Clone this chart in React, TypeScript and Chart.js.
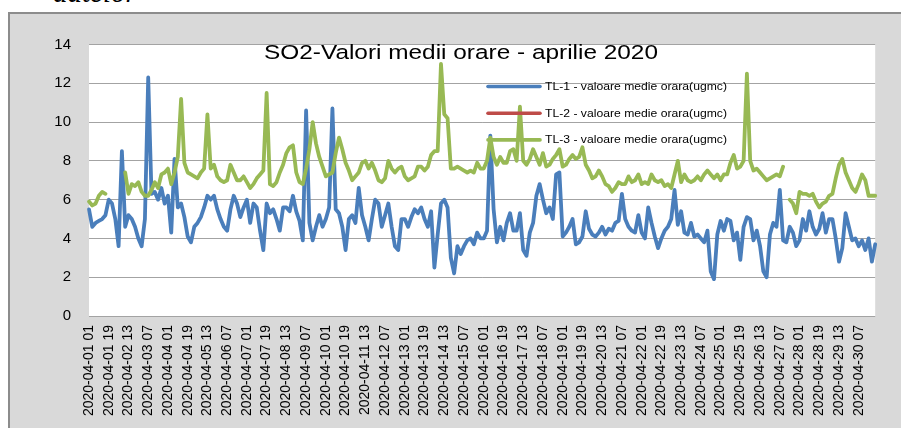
import React, { useEffect, useRef } from 'react';
import { Chart, registerables } from 'chart.js';

Chart.register(...registerables);

const TITLE = 'SO2-Valori medii orare - aprilie 2020';
const HEADER_TEXT = 'datelor';

const SERIES_NAMES = [
  'TL-1 - valoare medie orara(ugmc)',
  'TL-2 - valoare medie orara(ugmc)',
  'TL-3 - valoare medie orara(ugmc)',
];
const SERIES_COLORS = ['#4a7ebb', '#be4b48', '#98b954'];

const TICK_LABELS = [
  '2020-04-01 01', '2020-04-01 19', '2020-04-02 13', '2020-04-03 07', '2020-04-04 01',
  '2020-04-04 19', '2020-04-05 13', '2020-04-06 07', '2020-04-07 01', '2020-04-07 19',
  '2020-04-08 13', '2020-04-09 07', '2020-04-10 01', '2020-04-10 19', '2020-04-11 13',
  '2020-04-12 07', '2020-04-13 01', '2020-04-13 19', '2020-04-14 13', '2020-04-15 07',
  '2020-04-16 01', '2020-04-16 19', '2020-04-17 13', '2020-04-18 07', '2020-04-19 01',
  '2020-04-19 19', '2020-04-20 13', '2020-04-21 07', '2020-04-22 01', '2020-04-22 19',
  '2020-04-23 13', '2020-04-24 07', '2020-04-25 01', '2020-04-25 19', '2020-04-26 13',
  '2020-04-27 07', '2020-04-28 01', '2020-04-28 19', '2020-04-29 13', '2020-04-30 07',
];

// 3-hourly readings, starting 2020-04-01 01
const TL1: (number | null)[] = [
  5.5, 4.6, 4.8, 4.9, 5.0, 5.2, 6.0, 5.8, 5.0, 3.6, 8.5, 4.6, 5.2, 5.0, 4.6, 4.0, 3.6, 5.0, 12.3, 6.3, 6.4, 6.0, 6.6, 5.8,
  6.2, 4.3, 8.1, 5.6, 5.8, 5.1, 4.1, 3.8, 4.6, 4.8, 5.1, 5.6, 6.2, 6.0, 6.2, 5.5, 5.0, 4.6, 4.4, 5.5, 6.2, 5.8, 5.1, 5.6,
  6.0, 4.8, 5.8, 5.6, 4.4, 3.4, 5.8, 5.3, 5.5, 5.0, 4.4, 5.6, 5.6, 5.4, 6.2, 5.4, 4.9, 3.9, 10.6, 4.8, 3.9, 4.6, 5.2, 4.6,
  5.0, 5.6, 10.7, 5.5, 5.3, 4.6, 3.4, 5.0, 5.2, 4.8, 6.6, 5.2, 4.6, 3.9, 5.0, 6.0, 5.8, 4.6, 5.2, 5.8, 4.6, 3.6, 3.4, 5.0,
  5.0, 4.6, 5.1, 5.5, 5.3, 5.6, 5.0, 4.6, 5.4, 2.5, 4.2, 5.8, 6.0, 5.6, 3.0, 2.2, 3.6, 3.2, 3.6, 3.9, 4.0, 3.7, 4.3, 4.0,
  4.0, 4.4, 9.3, 5.5, 3.8, 4.6, 3.9, 4.8, 5.3, 4.4, 4.4, 5.3, 3.4, 3.1, 4.3, 4.8, 6.2, 6.8, 6.0, 5.3, 5.6, 5.0, 7.3, 7.4,
  4.1, 4.3, 4.6, 5.0, 3.7, 3.8, 4.1, 5.4, 4.5, 4.2, 4.1, 4.3, 4.6, 4.2, 4.5, 4.4, 4.8, 4.9, 6.3, 5.0, 4.6, 4.4, 4.3, 5.2,
  4.3, 4.0, 5.6, 4.8, 4.1, 3.5, 4.0, 4.4, 4.6, 5.0, 6.5, 4.7, 5.4, 4.3, 4.2, 4.8, 4.1, 4.2, 4.0, 3.8, 4.4, 2.3, 1.9, 4.2,
  4.9, 4.4, 5.0, 4.9, 3.9, 4.3, 2.9, 4.6, 5.1, 5.0, 3.9, 4.4, 3.6, 2.3, 2.0, 4.2, 4.8, 4.6, 6.5, 3.9, 3.8, 4.6, 4.3, 3.6,
  3.9, 5.0, 4.4, 5.4, 4.6, 4.2, 4.5, 5.3, 4.3, 5.0, 5.0, 4.0, 2.8, 3.5, 5.3, 4.6, 3.9, 4.0, 3.6, 3.9, 3.4, 4.0, 2.8, 3.7,
];

const TL2: (number | null)[] = [];

const TL3: (number | null)[] = [
  5.9, 5.7, 5.8, 6.2, 6.4, 6.3, null, null, null, null, null, 7.4, 6.3, 6.8, 6.7, 6.9, 6.4, 6.2, 6.2, 6.5, 6.9, 6.6, 7.3, 7.4,
  7.6, 6.8, 7.4, 8.2, 11.2, 7.9, 7.4, 7.3, 7.2, 7.1, 7.4, 7.6, 10.4, 7.6, 7.8, 7.2, 7.0, 6.9, 7.0, 7.8, 7.4, 7.0, 7.0, 7.2,
  6.9, 6.6, 6.8, 7.1, 7.3, 7.5, 11.5, 6.8, 6.7, 6.9, 7.4, 7.8, 8.4, 8.7, 8.8, 7.4, 6.9, 6.8, 7.6, 8.6, 10.0, 8.9, 8.2, 7.7,
  7.2, 7.3, 7.4, 8.4, 9.2, 8.6, 7.9, 7.5, 7.0, 7.2, 7.4, 7.9, 8.0, 7.6, 7.9, 7.5, 7.0, 6.9, 7.1, 8.0, 7.6, 7.4, 7.6, 7.7,
  7.2, 7.0, 7.1, 7.2, 7.7, 7.7, 7.5, 7.7, 8.3, 8.5, 8.5, 13.0, 10.4, 10.2, 7.6, 7.6, 7.7, 7.6, 7.5, 7.4, 7.5, 7.4, 7.9, 7.6,
  7.6, 8.0, 9.2, 8.2, 7.8, 8.2, 7.9, 7.9, 8.5, 8.6, 8.0, 10.8, 8.0, 7.8, 8.1, 8.6, 8.2, 7.8, 8.4, 7.7, 7.8, 8.1, 8.3, 8.6,
  7.7, 7.8, 8.1, 8.3, 8.1, 8.2, 8.7, 7.8, 7.5, 7.1, 7.2, 7.5, 7.2, 6.8, 6.7, 6.4, 6.6, 6.9, 6.8, 6.8, 7.2, 6.9, 7.0, 7.3,
  6.8, 6.9, 6.8, 7.3, 7.0, 6.9, 7.0, 6.7, 6.8, 6.6, 7.3, 8.0, 6.9, 7.3, 7.0, 6.9, 7.0, 7.2, 7.0, 7.3, 7.5, 7.3, 7.1, 7.3,
  7.0, 7.3, 7.3, 7.9, 8.3, 7.6, 7.7, 8.0, 12.5, 8.0, 7.5, 7.6, 7.4, 7.2, 7.0, 7.1, 7.2, 7.3, 7.2, 7.7, null, 6.0, 5.8, 5.3,
  6.4, 6.3, 6.3, 6.2, 6.3, 5.9, 5.6, 5.8, 5.9, 6.2, 6.3, 7.1, 7.8, 8.1, 7.4, 7.0, 6.6, 6.4, 6.8, 7.3, 7.0, 6.2, 6.2, 6.2,
];

const STEP_HOURS = 3;
const LABEL_EVERY = 6;
const pad2 = (n: number) => (n < 10 ? '0' + n : String(n));
const START = Date.UTC(2020, 3, 1, 1);
const CATEGORIES = TL1.map((_, j) => {
  const d = new Date(START + j * STEP_HOURS * 3600000);
  return `${d.getUTCFullYear()}-${pad2(d.getUTCMonth() + 1)}-${pad2(d.getUTCDate())} ${pad2(d.getUTCHours())}`;
});

function drawStretched(
  ctx: CanvasRenderingContext2D,
  text: string,
  x: number,
  y: number,
  w: number,
  font: string,
  align: 'left' | 'center',
  baseline: CanvasTextBaseline
) {
  ctx.save();
  ctx.font = font;
  ctx.textAlign = 'left';
  ctx.textBaseline = baseline;
  const m = ctx.measureText(text).width || 1;
  const s = w / m;
  const x0 = align === 'center' ? x - w / 2 : x;
  ctx.translate(x0, y);
  ctx.scale(s, 1);
  ctx.fillStyle = '#000000';
  ctx.fillText(text, 0, 0);
  ctx.restore();
}

const decorPlugin = {
  id: 'decor',
  beforeDraw(chart: any) {
    const { ctx, chartArea: a } = chart;
    ctx.save();
    ctx.fillStyle = '#ffffff';
    ctx.fillRect(a.left, a.top, a.right - a.left, a.bottom - a.top);
    ctx.restore();
  },
  afterDatasetsDraw(chart: any) {
    const ctx: CanvasRenderingContext2D = chart.ctx;
    chart.data.datasets.forEach((ds: any, i: number) => {
      const y = 86.5 + i * 26.7;
      ctx.save();
      ctx.strokeStyle = ds.borderColor;
      ctx.lineWidth = 3.6;
      ctx.lineCap = 'round';
      ctx.beginPath();
      ctx.moveTo(488, y);
      ctx.lineTo(540, y);
      ctx.stroke();
      ctx.restore();
      drawStretched(ctx, ds.label, 545, y + 0.5, 182, '10.5px "Liberation Sans"', 'left', 'middle');
    });
    drawStretched(ctx, TITLE, 461, 59, 394, '20.5px "Liberation Sans"', 'center', 'alphabetic');
  },
};

export default function App() {
  const ref = useRef<HTMLCanvasElement | null>(null);

  useEffect(() => {
    if (!ref.current) return;
    const data = [TL1, TL2, TL3];
    const chart = new Chart(ref.current, {
      type: 'line',
      data: {
        labels: CATEGORIES,
        datasets: SERIES_NAMES.map((name, i) => ({
          label: name,
          data: data[i],
          borderColor: SERIES_COLORS[i],
          backgroundColor: SERIES_COLORS[i],
          borderWidth: 3.8,
          pointRadius: 0,
          pointHoverRadius: 0,
          tension: 0,
          fill: false,
          spanGaps: false,
          borderJoinStyle: 'round',
          borderCapStyle: 'round',
          order: 3 - i,
        })) as any,
      },
      options: {
        animation: false,
        responsive: false,
        events: [],
        layout: { padding: { left: 0, top: 44.5, right: 7, bottom: 0 } },
        plugins: {
          legend: { display: false },
          title: { display: false },
          tooltip: { enabled: false },
        },
        scales: {
          x: {
            type: 'category',
            offset: false,
            grid: { display: false, drawTicks: false },
            border: { display: false },
            afterFit: (scale: any) => {
              scale.height = 112;
            },
            ticks: {
              autoSkip: false,
              minRotation: 90,
              maxRotation: 90,
              padding: 9,
              color: '#000000',
              font: { family: '"Liberation Sans", Arial, sans-serif', size: 14 },
              callback: (_v: any, i: number) => (i % LABEL_EVERY === 0 ? TICK_LABELS[i / LABEL_EVERY] : ''),
            },
          },
          y: {
            min: 0,
            max: 14,
            grid: { color: '#a3a3a3', lineWidth: 1, drawTicks: false },
            border: { display: false },
            afterFit: (scale: any) => {
              scale.width = 89;
            },
            ticks: {
              stepSize: 2,
              padding: 18,
              color: '#000000',
              font: { family: '"Liberation Sans", Arial, sans-serif', size: 15 },
            },
          },
        },
      } as any,
      plugins: [decorPlugin],
    });
    return () => chart.destroy();
  }, []);

  return (
    <>
      <div
        style={{
          position: 'absolute',
          left: 53,
          top: -22,
          font: 'italic 29px "Liberation Serif", serif',
          lineHeight: '29px',
          whiteSpace: 'nowrap',
          color: '#000',
        }}
      >
        {HEADER_TEXT}
      </div>
      <div
        style={{
          position: 'absolute',
          left: 8,
          top: 12,
          width: 893,
          height: 416,
          boxSizing: 'border-box',
          borderTop: '2px solid #8c8c8c',
          borderLeft: '2px solid #8c8c8c',
          background: '#d9d9d9',
        }}
      />
      <canvas
        ref={ref}
        width={901}
        height={428}
        style={{ position: 'absolute', left: 0, top: 0, width: 901, height: 428 }}
      />
    </>
  );
}
